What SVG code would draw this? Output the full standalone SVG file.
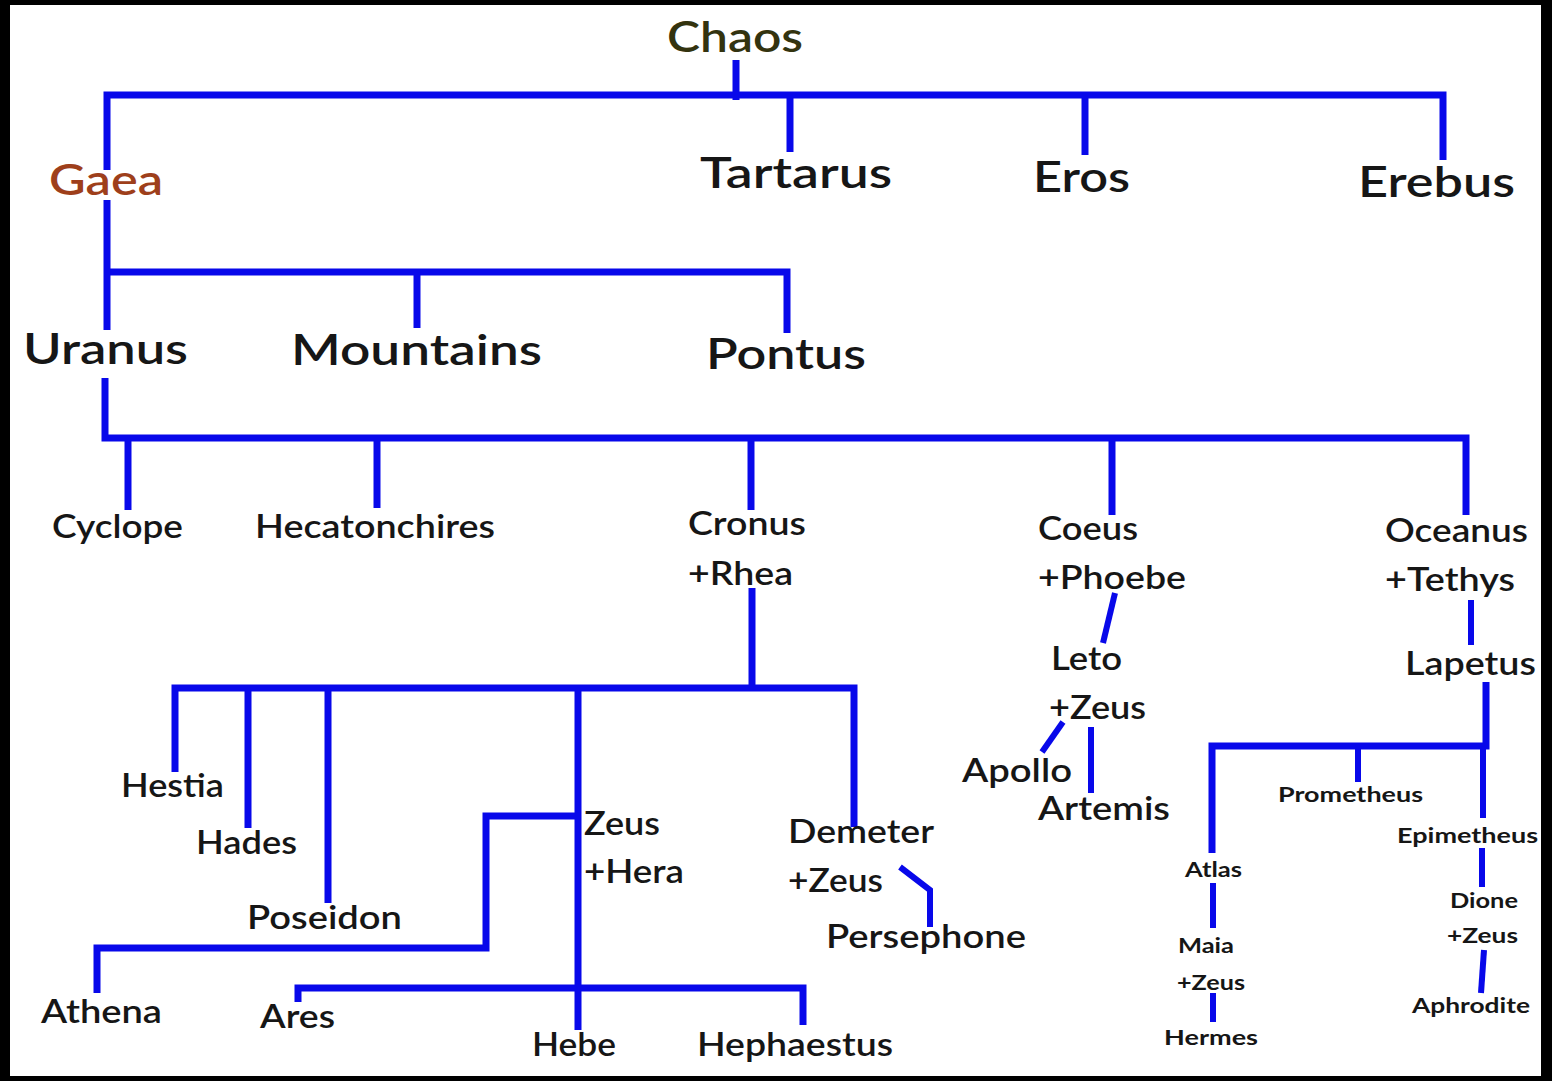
<svg xmlns="http://www.w3.org/2000/svg" width="1552" height="1081" viewBox="0 0 1552 1081">
<style>
text{font-family:Lato,"Open Sans","Liberation Sans",sans-serif;font-weight:600;fill:#161616}
.l1{font-size:43px}
.l2{font-size:32px}
.s{font-size:21px;font-weight:700}
.c path{fill:none;stroke:#0808ea;stroke-width:7;stroke-linejoin:miter;stroke-linecap:butt}
.c .t{stroke-width:6}
</style>
<rect x="0" y="0" width="1552" height="1081" fill="#000"/>
<rect x="10" y="5" width="1531" height="1071" fill="#fff"/>
<g class="c" id="connectors">
<path d="M736,60 V100"/>
<path d="M107,170 V95 H1443 V160"/>
<path d="M790,95 V152"/>
<path d="M1085,95 V155"/>
<path d="M107,200 V330"/>
<path d="M107,272 H787 V333"/>
<path d="M417,272 V328"/>
<path d="M105,378 V438 H1466 V515"/>
<path d="M128,438 V510"/>
<path d="M377,438 V508"/>
<path d="M751,438 V510"/>
<path d="M1112,438 V515"/>
<path d="M752,588 V688"/>
<path d="M175,772 V688 H854 V827"/>
<path d="M248,688 V828"/>
<path d="M328,688 V903"/>
<path d="M578,688 V1030"/>
<path d="M578,816 H486 V948 H97 V993"/>
<path d="M298,1002 V988 H803 V1025"/>
<path class="t" d="M900,867 L930,890 V927"/>
<path class="t" d="M1115,593 L1103,643"/>
<path class="t" d="M1063,722 L1042,752"/>
<path class="t" d="M1091,727 V793"/>
<path class="t" d="M1471,600 V645"/>
<path d="M1486,682 V746 H1212 V853"/>
<path class="t" d="M1358,746 V782"/>
<path class="t" d="M1483,746 V818"/>
<path class="t" d="M1482,848 V887"/>
<path class="t" d="M1213,883 V928"/>
<path class="t" d="M1213,993 V1022"/>
<path class="t" d="M1484,950 L1481,993"/>
</g>
<g id="chaos"><text class="l1" x="667" y="52" textLength="136" lengthAdjust="spacingAndGlyphs" style="fill:#33330f">Chaos</text></g>
<g id="gaea"><text class="l1" x="49" y="195" textLength="114" lengthAdjust="spacingAndGlyphs" style="fill:#9e3f1b">Gaea</text></g>
<g id="tartarus"><text class="l1" x="700" y="188" textLength="192" lengthAdjust="spacingAndGlyphs">Tartarus</text></g>
<g id="eros"><text class="l1" x="1033" y="192" textLength="97" lengthAdjust="spacingAndGlyphs">Eros</text></g>
<g id="erebus"><text class="l1" x="1358" y="197" textLength="157" lengthAdjust="spacingAndGlyphs">Erebus</text></g>
<g id="uranus"><text class="l1" x="23" y="364" textLength="165" lengthAdjust="spacingAndGlyphs">Uranus</text></g>
<g id="mountains"><text class="l1" x="291" y="365" textLength="251" lengthAdjust="spacingAndGlyphs">Mountains</text></g>
<g id="pontus"><text class="l1" x="706" y="369" textLength="160" lengthAdjust="spacingAndGlyphs">Pontus</text></g>
<g id="cyclope"><text class="l2" x="52" y="538" textLength="131" lengthAdjust="spacingAndGlyphs">Cyclope</text></g>
<g id="hecatonchires"><text class="l2" x="255" y="538" textLength="240" lengthAdjust="spacingAndGlyphs">Hecatonchires</text></g>
<g id="cronus-rhea"><text class="l2" x="688" y="535" textLength="118" lengthAdjust="spacingAndGlyphs">Cronus</text><text class="l2" x="688" y="585" textLength="105" lengthAdjust="spacingAndGlyphs">+Rhea</text></g>
<g id="coeus-phoebe"><text class="l2" x="1038" y="540" textLength="100" lengthAdjust="spacingAndGlyphs">Coeus</text><text class="l2" x="1038" y="589" textLength="148" lengthAdjust="spacingAndGlyphs">+Phoebe</text></g>
<g id="oceanus-tethys"><text class="l2" x="1385" y="542" textLength="143" lengthAdjust="spacingAndGlyphs">Oceanus</text><text class="l2" x="1385" y="591" textLength="130" lengthAdjust="spacingAndGlyphs">+Tethys</text></g>
<g id="leto-zeus"><text class="l2" x="1051" y="670" textLength="71" lengthAdjust="spacingAndGlyphs">Leto</text><text class="l2" x="1049" y="719" textLength="97" lengthAdjust="spacingAndGlyphs">+Zeus</text></g>
<g id="apollo"><text class="l2" x="962" y="782" textLength="110" lengthAdjust="spacingAndGlyphs">Apollo</text></g>
<g id="artemis"><text class="l2" x="1038" y="820" textLength="132" lengthAdjust="spacingAndGlyphs">Artemis</text></g>
<g id="lapetus"><text class="l2" x="1405" y="675" textLength="131" lengthAdjust="spacingAndGlyphs">Lapetus</text></g>
<g id="hestia"><text class="l2" x="121" y="797" textLength="103" lengthAdjust="spacingAndGlyphs">Hestia</text></g>
<g id="hades"><text class="l2" x="196" y="854" textLength="101" lengthAdjust="spacingAndGlyphs">Hades</text></g>
<g id="poseidon"><text class="l2" x="247" y="929" textLength="155" lengthAdjust="spacingAndGlyphs">Poseidon</text></g>
<g id="zeus-hera"><text class="l2" x="584" y="835" textLength="76" lengthAdjust="spacingAndGlyphs">Zeus</text><text class="l2" x="584" y="883" textLength="100" lengthAdjust="spacingAndGlyphs">+Hera</text></g>
<g id="demeter-zeus"><text class="l2" x="788" y="843" textLength="146" lengthAdjust="spacingAndGlyphs">Demeter</text><text class="l2" x="788" y="892" textLength="95" lengthAdjust="spacingAndGlyphs">+Zeus</text></g>
<g id="persephone"><text class="l2" x="826" y="948" textLength="200" lengthAdjust="spacingAndGlyphs">Persephone</text></g>
<g id="athena"><text class="l2" x="41" y="1023" textLength="121" lengthAdjust="spacingAndGlyphs">Athena</text></g>
<g id="ares"><text class="l2" x="260" y="1028" textLength="75" lengthAdjust="spacingAndGlyphs">Ares</text></g>
<g id="hebe"><text class="l2" x="532" y="1056" textLength="84" lengthAdjust="spacingAndGlyphs">Hebe</text></g>
<g id="hephaestus"><text class="l2" x="697" y="1056" textLength="196" lengthAdjust="spacingAndGlyphs">Hephaestus</text></g>
<g id="prometheus"><text class="s" x="1278" y="802" textLength="145" lengthAdjust="spacingAndGlyphs">Prometheus</text></g>
<g id="epimetheus"><text class="s" x="1397" y="843" textLength="141" lengthAdjust="spacingAndGlyphs">Epimetheus</text></g>
<g id="atlas"><text class="s" x="1185" y="877" textLength="57" lengthAdjust="spacingAndGlyphs">Atlas</text></g>
<g id="maia-zeus"><text class="s" x="1178" y="953" textLength="56" lengthAdjust="spacingAndGlyphs">Maia</text><text class="s" x="1177" y="990" textLength="68" lengthAdjust="spacingAndGlyphs">+Zeus</text></g>
<g id="hermes"><text class="s" x="1164" y="1045" textLength="94" lengthAdjust="spacingAndGlyphs">Hermes</text></g>
<g id="dione-zeus"><text class="s" x="1450" y="908" textLength="68" lengthAdjust="spacingAndGlyphs">Dione</text><text class="s" x="1447" y="943" textLength="71" lengthAdjust="spacingAndGlyphs">+Zeus</text></g>
<g id="aphrodite"><text class="s" x="1412" y="1013" textLength="118" lengthAdjust="spacingAndGlyphs">Aphrodite</text></g>
</svg>
